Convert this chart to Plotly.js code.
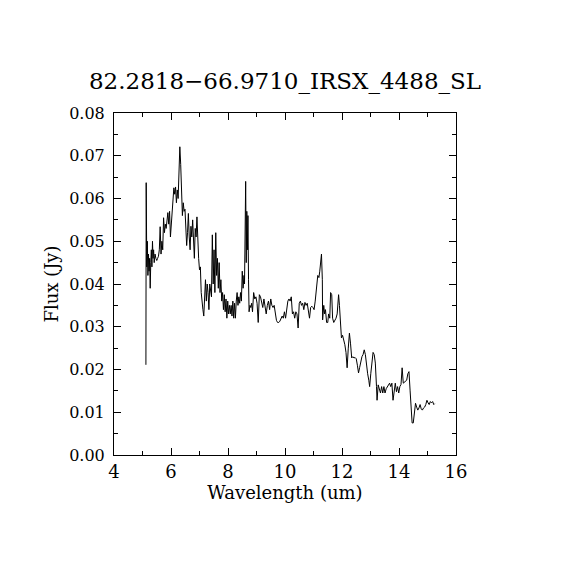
<!DOCTYPE html>
<html>
<head>
<meta charset="utf-8">
<script src="https://cdn.plot.ly/plotly-3.0.1.min.js"></script>
<style>html,body{margin:0;padding:0;background:#fff;}#chart{width:570px;height:570px;}</style>
</head>
<body>
<div id="chart"></div>
<script>
const titleText = "82.2818\u221266.9710_IRSX_4488_SL";
const xLabel = "Wavelength (um)";
const yLabel = "Flux (Jy)";

const wavelength = [
5.12,5.13,5.15,5.17,5.19,5.21,5.23,5.25,5.27,5.29,5.31,5.33,5.35,5.37,5.39,5.41,5.44,5.47,5.50,5.53,
5.56,5.59,5.62,5.65,5.68,5.71,5.74,5.77,5.80,5.83,5.86,5.89,5.92,5.95,5.98,6.01,6.04,6.07,6.10,6.13,
6.16,6.19,6.22,6.25,6.28,6.31,6.34,6.37,6.40,6.43,6.46,6.49,6.52,6.55,6.58,6.61,6.64,6.67,6.70,6.73,
6.76,6.79,6.82,6.85,6.88,6.91,6.94,6.97,7.00,7.03,7.06,7.09,7.12,7.15,7.18,7.21,7.24,7.27,7.30,7.33,
7.36,7.39,7.42,7.45,7.48,7.51,7.54,7.57,7.60,7.63,7.66,7.69,7.72,7.75,7.78,7.81,7.84,7.87,7.90,7.93,
7.96,7.99,8.02,8.05,8.08,8.11,8.14,8.17,8.20,8.23,8.26,8.29,8.32,8.35,8.38,8.41,8.44,8.47,8.50,8.53,
8.56,8.58,8.60,8.62,8.64,8.66,8.68,8.70,8.72,8.74,8.77,8.80,8.83,8.86,8.90,8.94,8.98,9.02,9.06,9.10,
9.14,9.18,9.22,9.26,9.30,9.34,9.38,9.42,9.46,9.50,9.54,9.58,9.62,9.66,9.70,9.74,9.78,9.82,9.86,9.90,
9.94,9.98,10.02,10.06,10.10,10.14,10.18,10.22,10.26,10.30,10.34,10.38,10.42,10.46,10.50,10.54,10.58,10.62,10.66,10.70,
10.74,10.78,10.82,10.86,10.90,10.94,10.98,11.02,11.06,11.09,11.12,11.15,11.19,11.22,11.25,11.28,11.31,11.32,11.36,11.39,
11.42,11.46,11.50,11.53,11.57,11.60,11.64,11.67,11.71,11.75,11.79,11.83,11.88,11.91,11.94,11.98,12.02,12.06,12.10,12.14,
12.18,12.22,12.26,12.30,12.34,12.38,12.42,12.46,12.50,12.54,12.58,12.62,12.66,12.70,12.74,12.78,12.82,12.86,12.90,12.94,
12.97,13.01,13.05,13.09,13.13,13.17,13.21,13.23,13.27,13.31,13.35,13.39,13.43,13.47,13.51,13.55,13.59,13.63,13.67,13.71,
13.75,13.79,13.83,13.87,13.91,13.95,13.99,14.03,14.07,14.11,14.15,14.19,14.23,14.27,14.31,14.35,14.39,14.43,14.46,14.50,
14.54,14.58,14.62,14.66,14.70,14.74,14.78,14.82,14.86,14.90,14.94,14.98,15.02,15.06,15.10,15.14,15.18,15.22,15.25
];

const flux = [
0.0211,0.0637,0.044,0.050,0.042,0.047,0.043,0.046,0.039,0.045,0.048,0.044,0.050,0.046,0.048,0.045,0.047,0.046,0.0455,0.046,
0.0465,0.048,0.0534,0.047,0.050,0.048,0.0555,0.052,0.054,0.053,0.055,0.0567,0.054,0.057,0.051,0.054,0.058,0.060,0.0625,0.061,
0.0627,0.059,0.062,0.060,0.066,0.0721,0.068,0.063,0.056,0.059,0.057,0.0575,0.054,0.049,0.052,0.0565,0.051,0.048,0.0535,0.051,
0.055,0.050,0.046,0.053,0.051,0.0557,0.049,0.046,0.0433,0.044,0.038,0.035,0.034,0.0325,0.037,0.041,0.036,0.040,0.038,0.034,
0.040,0.038,0.037,0.0515,0.040,0.048,0.038,0.052,0.042,0.046,0.039,0.045,0.038,0.041,0.036,0.038,0.034,0.0375,0.0335,0.0365,
0.032,0.036,0.033,0.035,0.033,0.035,0.0325,0.036,0.032,0.0355,0.032,0.036,0.038,0.035,0.037,0.0355,0.038,0.036,0.043,0.039,
0.042,0.040,0.050,0.064,0.045,0.057,0.048,0.056,0.041,0.0335,0.035,0.0345,0.0355,0.0335,0.038,0.0365,0.037,0.0355,0.031,0.0375,
0.037,0.036,0.0345,0.0365,0.034,0.033,0.035,0.036,0.034,0.0365,0.035,0.0345,0.035,0.033,0.0315,0.031,0.031,0.0313,0.032,0.0325,
0.032,0.0335,0.032,0.034,0.036,0.0365,0.036,0.037,0.033,0.0335,0.032,0.0335,0.033,0.0297,0.0355,0.036,0.035,0.0355,0.034,0.0357,
0.035,0.0355,0.034,0.032,0.0345,0.0348,0.0345,0.034,0.036,0.0394,0.040,0.042,0.0415,0.043,0.045,0.047,0.041,0.0316,0.035,0.033,
0.034,0.031,0.031,0.033,0.032,0.038,0.0375,0.032,0.031,0.0315,0.032,0.033,0.0375,0.035,0.0305,0.0274,0.028,0.027,0.0258,0.024,
0.0204,0.025,0.0285,0.026,0.0227,0.023,0.0227,0.0228,0.0225,0.021,0.0192,0.0205,0.0218,0.023,0.0235,0.0246,0.0235,0.0207,0.019,0.0175,
0.016,0.019,0.0225,0.024,0.0235,0.0215,0.016,0.0128,0.0164,0.0155,0.0145,0.016,0.0145,0.016,0.0145,0.0155,0.016,0.0165,0.0168,0.016,
0.0168,0.0128,0.015,0.0168,0.0148,0.016,0.0145,0.016,0.0165,0.0204,0.0168,0.017,0.0172,0.0175,0.019,0.0195,0.015,0.0115,0.0075,0.0075,
0.0095,0.0121,0.0112,0.0105,0.011,0.0118,0.0108,0.0105,0.011,0.0112,0.0118,0.0128,0.0122,0.0118,0.0125,0.0122,0.0125,0.0118,0.012
];

const xTickVals = [4,6,8,10,12,14,16];
const yTickVals = [0.00,0.01,0.02,0.03,0.04,0.05,0.06,0.07,0.08];

const font = "DejaVu Serif";

const trace = {
  x: wavelength, y: flux, type: "scatter", mode: "lines",
  line: {color: "#000", width: 1, shape: "linear"},
  hoverinfo: "skip"
};

const layout = {
  width: 570, height: 570,
  paper_bgcolor: "#fff", plot_bgcolor: "#fff",
  margin: {l: 114, r: 114, t: 113, b: 115},
  showlegend: false,
  title: {text: titleText, font: {family: font, size: 23, color: "#000"},
          x: 0.5, xref: "container", xanchor: "center", y: 0.858, yref: "container", yanchor: "middle"},
  xaxis: {
    range: [4,16], tickvals: xTickVals, ticktext: xTickVals.map(String),
    ticks: "inside", ticklen: 7, tickwidth: 1, tickcolor: "#000",
    minor: {dtick: 1, tick0: 4, ticks: "inside", ticklen: 4, tickcolor: "#000", tickwidth: 1, showgrid: false},
    showline: true, linecolor: "#000", linewidth: 1, mirror: "allticks",
    showgrid: false, zeroline: false,
    tickfont: {family: font, size: 18, color: "#000"},
    title: {text: xLabel, font: {family: font, size: 18, color: "#000"}, standoff: 4}
  },
  yaxis: {
    range: [0,0.08], tickvals: yTickVals, ticktext: yTickVals.map(v => v.toFixed(2)),
    ticks: "inside", ticklen: 7, tickwidth: 1, tickcolor: "#000",
    minor: {dtick: 0.005, tick0: 0, ticks: "inside", ticklen: 4, tickcolor: "#000", tickwidth: 1, showgrid: false},
    showline: true, linecolor: "#000", linewidth: 1, mirror: "allticks",
    showgrid: false, zeroline: false,
    ticklabelstandoff: 5,
    tickfont: {family: font, size: 16, color: "#000"},
    title: {text: yLabel, font: {family: font, size: 18, color: "#000"}, standoff: 5}
  }
};

Plotly.newPlot("chart", [trace], layout, {staticPlot: true, displayModeBar: false});
</script>
</body>
</html>
